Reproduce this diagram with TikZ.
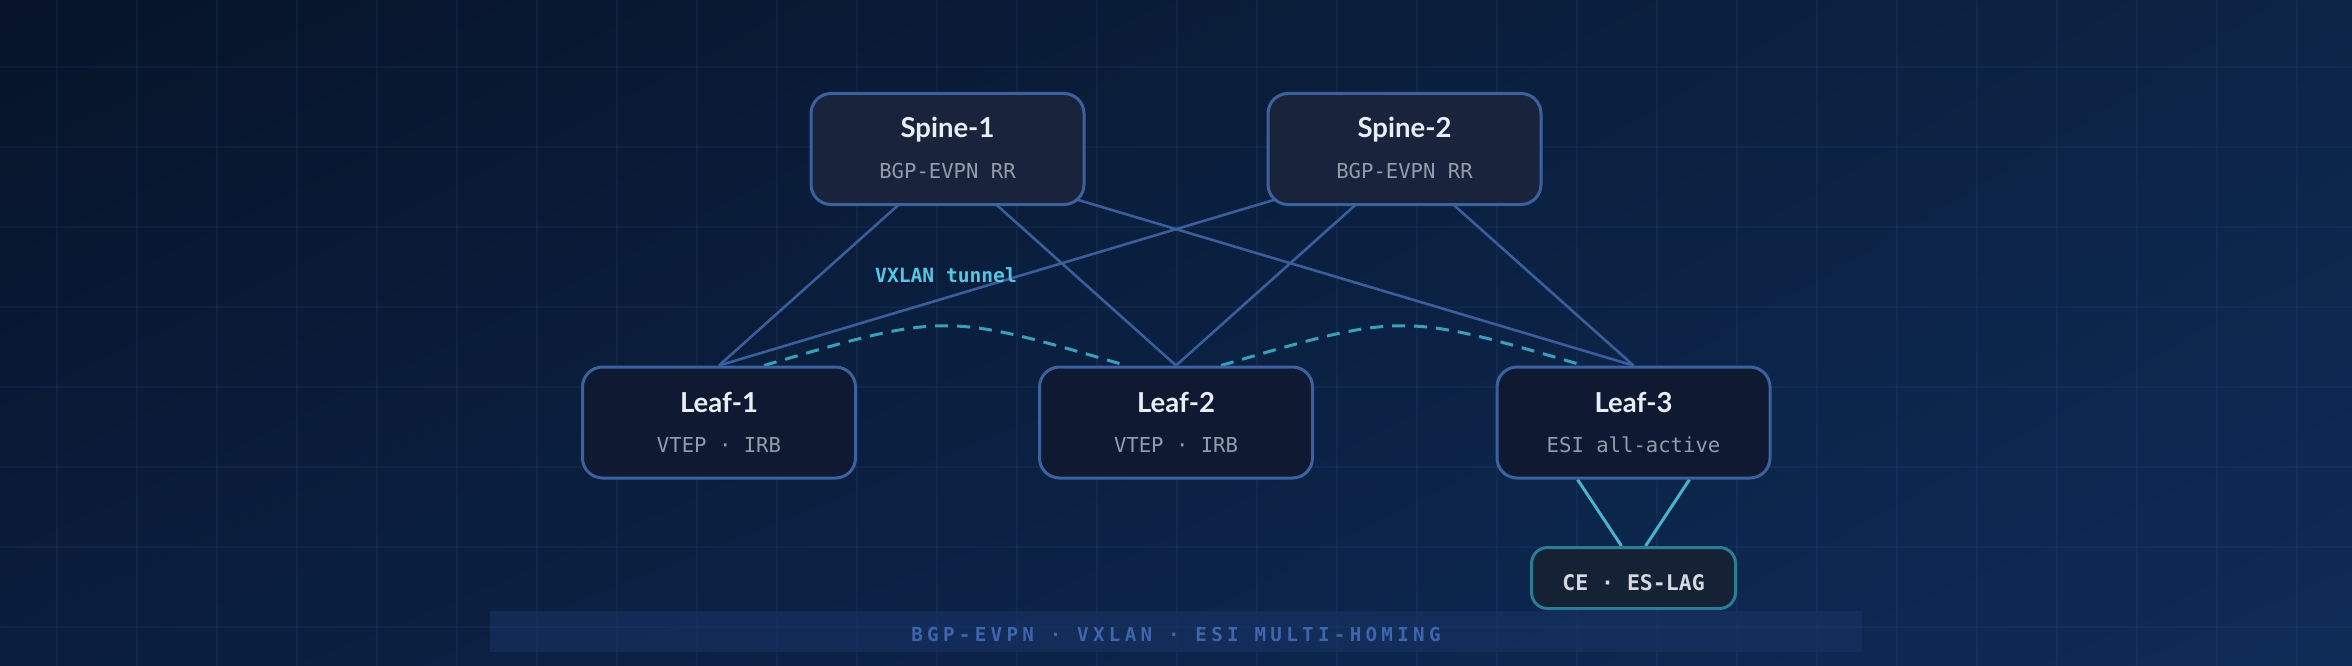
\documentclass[tikz,border=0pt]{standalone}
\usepackage{fontspec}
\usepackage{xcolor}
\usepackage{tikz}
\usetikzlibrary{calc,backgrounds,shadings}
\newfontfamily\ttlfont{Lato}
\newfontfamily\monofont{DejaVu Sans Mono}
\newfontfamily\capsfont{DejaVu Sans Mono}[LetterSpace=22.4]
\definecolor{bgtl}{HTML}{071429}
\definecolor{bgtr}{HTML}{0C2446}
\definecolor{bgbl}{HTML}{0A1D3D}
\definecolor{bgbr}{HTML}{0E2B57}
\definecolor{gridcol}{HTML}{4A78C0}
\definecolor{spinefill}{HTML}{19233B}
\definecolor{leaffill}{HTML}{0F1A32}
\definecolor{boxline}{HTML}{3C619F}
\definecolor{linkcol}{HTML}{3A5E9B}
\definecolor{tunnelcol}{HTML}{3A9FB8}
\definecolor{lagcol}{HTML}{47B3CC}
\definecolor{cefill}{HTML}{152235}
\definecolor{ceedge}{HTML}{2E7C92}
\definecolor{ttltext}{HTML}{E9EEF6}
\definecolor{subtext}{HTML}{939CAC}
\definecolor{cetext}{HTML}{D4D9E2}
\definecolor{vxtext}{HTML}{55C7E5}
\definecolor{bannerfill}{HTML}{1A3466}
\definecolor{bannertext}{HTML}{3D66AE}
\pgfdeclarelayer{canvas}
\pgfsetlayers{canvas,background,main}
\tikzset{
  gridline/.style={draw=gridcol,draw opacity=0.09,line width=2pt},
  netbox/.style={draw=boxline,line width=3pt,rounded corners=20pt,minimum width=273pt,minimum height=111pt},
  spinebox/.style={netbox,fill=spinefill},
  leafbox/.style={netbox,fill=leaffill},
  cebox/.style={draw=ceedge,fill=cefill,line width=3pt,rounded corners=16pt,minimum width=204pt,minimum height=61pt,
    text=cetext,font=\monofont\bfseries\fontsize{21.5}{25}\selectfont,text height=25pt,text depth=0pt},
  ttl/.style={anchor=base,text=ttltext,font=\ttlfont\bfseries\fontsize{27.5}{32}\selectfont},
  subtxt/.style={anchor=base,text=subtext,font=\monofont\fontsize{20.6}{24}\selectfont},
  tunlabel/.style={anchor=base,text=vxtext,font=\monofont\bfseries\fontsize{19.6}{23}\selectfont},
  banner/.style={fill=bannerfill,fill opacity=0.55,text opacity=1,minimum width=1372pt,minimum height=41pt,
    text=bannertext,font=\capsfont\bfseries\fontsize{19.2}{23}\selectfont,text height=20pt,text depth=0pt},
  fabric/.style={draw=linkcol,line width=2.6pt},
  tunnel/.style={draw=tunnelcol,line width=3pt,dash pattern=on 13pt off 9pt},
  lag/.style={draw=lagcol,line width=3pt},
}

\begin{document}
\begin{tikzpicture}[x=1pt,y=-1pt]
  \useasboundingbox (0,0) rectangle (2352,666);
  \begin{pgfonlayer}{canvas}
    \shade[upper left=bgtl,upper right=bgtr,lower left=bgbl,lower right=bgbr] (0,0) rectangle (2352,666);
    \foreach \gx in {57,137,...,2297} \draw[gridline] (\gx,0) -- (\gx,666);
    \foreach \gy in {67,147,...,627} \draw[gridline] (0,\gy) -- (2352,\gy);
  \end{pgfonlayer}

  % spines and leaves
  \foreach \n/\x/\t/\s in {sp1/947.5/Spine-1/BGP-EVPN RR,sp2/1404.5/Spine-2/BGP-EVPN RR}{
    \node[spinebox] (\n) at (\x,149) {};
    \node[ttl] (\n t) at ([yshift=11pt]\n.center) {\t};
    \node[subtxt] (\n s) at ([yshift=-29.5pt]\n.center) {\s};
  }
  \foreach \n/\x/\t/\s in {l1/719/Leaf-1/VTEP · IRB,l2/1176/Leaf-2/VTEP · IRB,l3/1633.5/Leaf-3/ESI all-active}{
    \node[leafbox] (\n) at (\x,422.5) {};
    \node[ttl] (\n t) at ([yshift=10.5pt]\n.center) {\t};
    \node[subtxt] (\n s) at ([yshift=-29.5pt]\n.center) {\s};
  }
  \node[cebox] (ce) at (1633.5,578) {CE · ES-LAG};
  \node[tunlabel] (vx) at (946,282.3) {VXLAN tunnel};
  \node[banner] (foot) at (1176,631.5) {BGP-EVPN · VXLAN · ESI MULTI-HOMING};

  \begin{scope}[on background layer]
    \foreach \s in {sp1,sp2}
      \foreach \l in {l1,l2,l3}
        \draw[fabric] ([yshift=-12pt]\s.center) -- (\l.north);
    \draw[tunnel] ([xshift=45pt]l1.north) .. controls ($(l1.north)!0.5!(l2.north)+(-2.5pt,53pt)$) .. ([xshift=-50pt]l2.north);
    \draw[tunnel] ([xshift=45pt]l2.north) .. controls ($(l2.north)!0.5!(l3.north)+(-2.5pt,53pt)$) .. ([xshift=-50pt]l3.north);
    \draw[lag] ([xshift=-56pt]l3.south) -- ([xshift=-12pt]ce.north);
    \draw[lag] ([xshift=56pt]l3.south) -- ([xshift=12pt]ce.north);
  \end{scope}
\end{tikzpicture}
\end{document}
